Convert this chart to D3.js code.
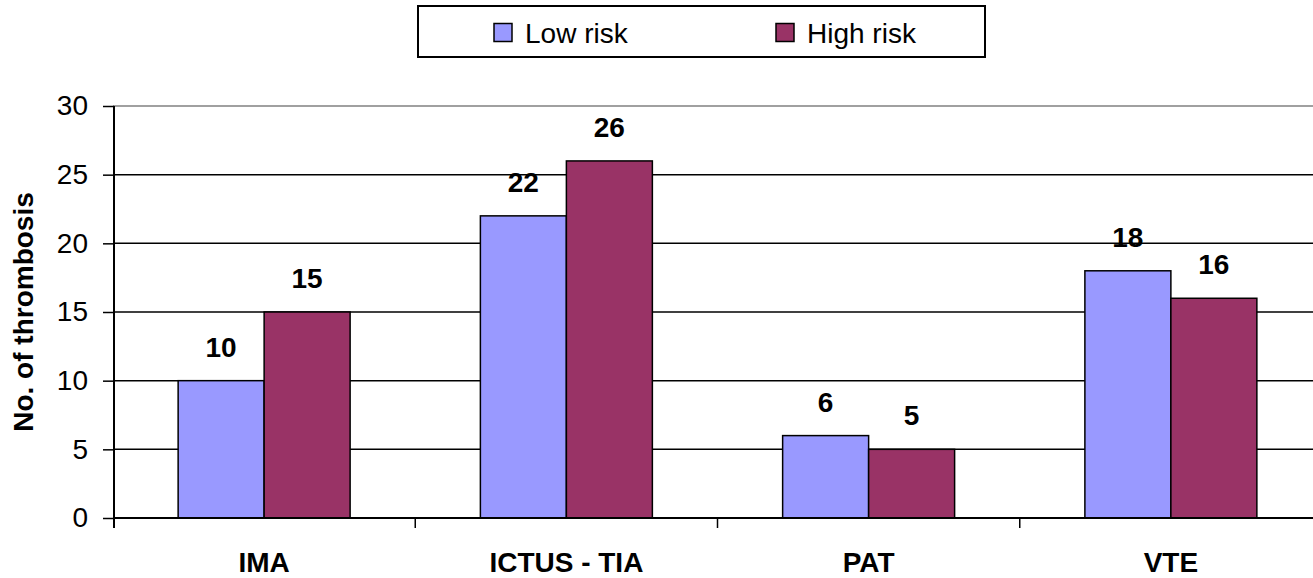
<!DOCTYPE html>
<html><head><meta charset="utf-8">
<script src="https://cdn.jsdelivr.net/npm/d3@7"></script>
<style>html,body{margin:0;padding:0;background:#fff;overflow:hidden}svg{display:block}</style>
</head><body>
<script>
const categories = ["IMA", "ICTUS - TIA", "PAT", "VTE"];
const seriesNames = ["Low risk", "High risk"];
const lowRisk = [10, 22, 6, 18];
const highRisk = [15, 26, 5, 16];
const yTicks = [0, 5, 10, 15, 20, 25, 30];
const colors = ["#9999FF", "#993366"];

(function () {
const W = 1313, H = 578;
const svg = d3.select("body").append("svg").attr("width", W).attr("height", H);
const font = "'Liberation Sans', Arial, sans-serif";

const pL = 113, pR = 1322, pT = 106, pB = 518;
const y = d3.scaleLinear().domain([0, 30]).range([pB, pT]);
const x0 = d3.scaleBand().domain(categories).range([pL, pR]).paddingInner(0.431).paddingOuter(0.2155);
const x1 = d3.scaleBand().domain(seriesNames).range([0, x0.bandwidth()]);

// gridlines
svg.append("g").selectAll("line").data(yTicks.filter(t => t > 0)).join("line")
  .attr("x1", pL).attr("x2", W).attr("y1", d => y(d)).attr("y2", d => y(d))
  .attr("stroke", d => d === 30 ? "#808080" : "#000").attr("stroke-width", 1.5);

// bars
const data = categories.map((c, i) => ({ c, vals: [lowRisk[i], highRisk[i]] }));
const g = svg.append("g").selectAll("g").data(data).join("g")
  .attr("transform", d => `translate(${x0(d.c)},0)`);
g.selectAll("rect").data(d => d.vals.map((v, j) => ({ v, s: seriesNames[j], j }))).join("rect")
  .attr("x", d => x1(d.s)).attr("width", x1.bandwidth())
  .attr("y", d => y(d.v)).attr("height", d => y(0) - y(d.v))
  .attr("fill", d => colors[d.j]).attr("stroke", "#000").attr("stroke-width", 1.5);
g.selectAll("text").data(d => d.vals.map((v, j) => ({ v, s: seriesNames[j], j }))).join("text")
  .attr("x", d => x1(d.s) + x1.bandwidth() / 2).attr("y", d => y(d.v) - 24)
  .attr("text-anchor", "middle").attr("font-family", font).attr("font-weight", "bold")
  .attr("font-size", 28).text(d => d.v);

// y axis
const yAxis = svg.append("g").attr("transform", `translate(${pL + 1},0)`)
  .call(d3.axisLeft(y).tickValues(yTicks).tickSize(11).tickPadding(15));
yAxis.select(".domain").attr("stroke", "#000").attr("stroke-width", 2).attr("d", `M0,${pT}V${pB + 10}`);
yAxis.selectAll(".tick line").attr("stroke", "#000").attr("stroke-width", 1.5);
yAxis.selectAll(".tick text").attr("font-family", font).attr("font-size", 28).attr("fill", "#000");

// x axis
const xTickPos = categories.map(c => x0(c) - x0.step() * x0.paddingInner() / 2).concat([pR]);
svg.append("line").attr("x1", pL).attr("x2", W).attr("y1", pB).attr("y2", pB)
  .attr("stroke", "#000").attr("stroke-width", 2);
svg.append("g").selectAll("line").data(xTickPos.slice(1)).join("line")
  .attr("x1", d => d).attr("x2", d => d).attr("y1", pB).attr("y2", pB + 10)
  .attr("stroke", "#000").attr("stroke-width", 1.5);
svg.append("g").selectAll("text").data(categories).join("text")
  .attr("x", d => x0(d) + x0.bandwidth() / 2).attr("y", 571.5)
  .attr("text-anchor", "middle").attr("font-family", font).attr("font-weight", "bold")
  .attr("font-size", 28).text(d => d);

// y title
svg.append("text").attr("transform", `translate(33,${(pT + pB) / 2}) rotate(-90)`)
  .attr("text-anchor", "middle").attr("font-family", font).attr("font-weight", "bold")
  .attr("font-size", 28).text("No. of thrombosis");

// legend
const lg = svg.append("g");
lg.append("rect").attr("x", 418).attr("y", 6).attr("width", 567).attr("height", 51)
  .attr("fill", "#fff").attr("stroke", "#000").attr("stroke-width", 2);
const legX = [494, 776];
seriesNames.forEach((s, i) => {
  lg.append("rect").attr("x", legX[i]).attr("y", 23.5).attr("width", 18).attr("height", 18)
    .attr("fill", colors[i]).attr("stroke", "#000").attr("stroke-width", 1.5);
  lg.append("text").attr("x", legX[i] + 31).attr("y", 43).attr("font-family", font)
    .attr("font-size", 28).text(s);
});
})();
</script>
</body></html>
